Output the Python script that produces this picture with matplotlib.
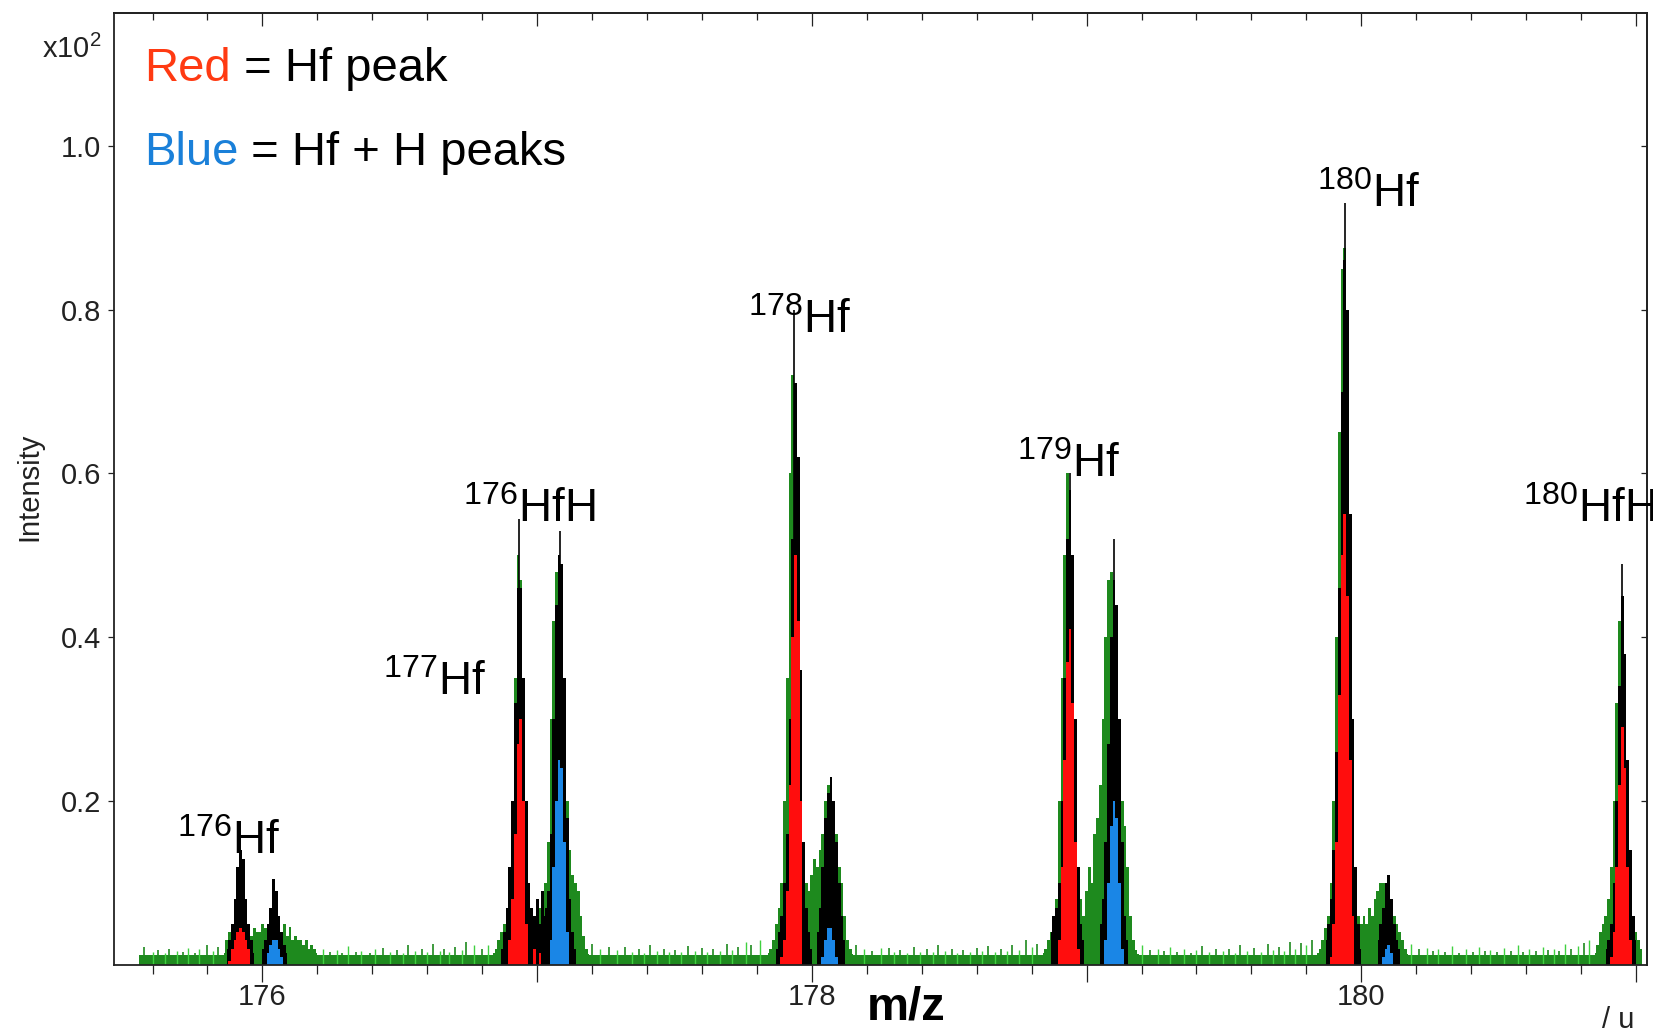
import numpy as np
import matplotlib.pyplot as plt
from matplotlib.ticker import MultipleLocator, FixedLocator, NullFormatter

plt.rcParams['font.family'] = ['Liberation Sans', 'DejaVu Sans']
plt.rcParams['mathtext.fontset'] = 'custom'
plt.rcParams['mathtext.rm'] = 'Liberation Sans'
plt.rcParams['mathtext.it'] = 'Liberation Sans'
plt.rcParams['mathtext.bf'] = 'Liberation Sans:bold'

STEP = 0.01  # bin width of the spectrum (u)
GREEN = '#1e8a1e'
LIGHT_GREEN = '#3fd13f'
RED = '#ff0d0d'
BLUE = '#1a86e6'

# flat background of the spectrum
base_start, base_end, base_level = 175.55, 181.02, 0.012

# noise spikes on the background
spike_x = [175.57, 175.60, 175.62, 175.645, 175.66, 175.69, 175.71, 175.73,
           175.755, 175.77, 175.80, 175.82, 175.84,
           176.22, 176.245, 176.27, 176.29, 176.31, 176.34, 176.36, 176.39,
           176.41, 176.44, 176.465, 176.49, 176.51, 176.53, 176.555, 176.58,
           176.60, 176.62, 176.645, 176.66, 176.68, 176.70, 176.725, 176.74,
           176.77, 176.80, 176.82,
           177.20, 177.23, 177.26, 177.29, 177.32, 177.345, 177.37, 177.39,
           177.41, 177.435, 177.46, 177.48, 177.50, 177.525, 177.55, 177.575,
           177.60, 177.62, 177.64, 177.665, 177.69, 177.71, 177.73, 177.76,
           177.78, 177.81,
           178.16, 178.19, 178.22, 178.25, 178.28, 178.30, 178.32, 178.345,
           178.37, 178.395, 178.42, 178.44, 178.46, 178.485, 178.51, 178.53,
           178.55, 178.575, 178.60, 178.62, 178.64, 178.665, 178.69, 178.71,
           178.73, 178.755, 178.78, 178.80, 178.82,
           179.20, 179.23, 179.26, 179.28, 179.305, 179.33, 179.355, 179.38,
           179.40, 179.42, 179.445, 179.47, 179.495, 179.52, 179.54, 179.56,
           179.585, 179.61, 179.635, 179.66, 179.68, 179.70, 179.72, 179.74,
           179.76, 179.78, 179.80, 179.82,
           180.18, 180.21, 180.24, 180.26, 180.28, 180.305, 180.33, 180.355,
           180.38, 180.405, 180.43, 180.45, 180.47, 180.495, 180.52, 180.545,
           180.57, 180.59, 180.61, 180.635, 180.66, 180.68, 180.70, 180.72,
           180.74, 180.765, 180.79, 180.81, 180.83]
spike_y = [0.022, 0.016, 0.018, 0.015, 0.020, 0.017, 0.016, 0.021,
           0.015, 0.019, 0.024, 0.017, 0.022,
           0.020, 0.016, 0.018, 0.015, 0.023, 0.016, 0.017, 0.015,
           0.019, 0.021, 0.016, 0.018, 0.015, 0.024, 0.017, 0.020,
           0.016, 0.026, 0.017, 0.019, 0.016, 0.022, 0.018, 0.028,
           0.025, 0.020, 0.024,
           0.026, 0.020, 0.022, 0.018, 0.022, 0.016, 0.019, 0.015,
           0.024, 0.017, 0.020, 0.016, 0.018, 0.016, 0.023, 0.017,
           0.021, 0.016, 0.019, 0.017, 0.026, 0.018, 0.022, 0.028,
           0.024, 0.030,
           0.024, 0.020, 0.017, 0.021, 0.021, 0.016, 0.018, 0.015,
           0.022, 0.016, 0.019, 0.016, 0.024, 0.017, 0.020, 0.015,
           0.018, 0.016, 0.021, 0.017, 0.023, 0.016, 0.019, 0.017,
           0.025, 0.018, 0.030, 0.022, 0.026,
           0.024, 0.018, 0.020, 0.017, 0.022, 0.016, 0.019, 0.015,
           0.018, 0.023, 0.016, 0.020, 0.017, 0.019, 0.015, 0.024,
           0.017, 0.021, 0.016, 0.026, 0.018, 0.022, 0.017, 0.028,
           0.020, 0.027, 0.024, 0.030,
           0.026, 0.019, 0.021, 0.017, 0.020, 0.016, 0.023, 0.015,
           0.019, 0.016, 0.022, 0.017, 0.018, 0.016, 0.021, 0.017,
           0.024, 0.016, 0.019, 0.017, 0.022, 0.018, 0.020, 0.017,
           0.026, 0.019, 0.023, 0.027, 0.030]

# green envelope around each peak group (start, values every STEP)
green_start = [175.86, 176.84, 177.84, 178.84, 179.84, 180.85]
green_vals = [
    [0.015, 0.03, 0.04, 0.045, 0.05, 0.05, 0.05, 0.05, 0.045, 0.04, 0.035,
     0.045, 0.04, 0.04, 0.05, 0.045, 0.05, 0.05, 0.05, 0.045, 0.04, 0.04,
     0.05, 0.035, 0.047, 0.03, 0.035, 0.03, 0.03, 0.025, 0.03, 0.02, 0.025,
     0.02, 0.015],
    [0.015, 0.02, 0.03, 0.04, 0.05, 0.06, 0.1, 0.2, 0.35, 0.5, 0.47, 0.3,
     0.12, 0.08, 0.06, 0.05, 0.06, 0.07, 0.08, 0.1, 0.15, 0.3, 0.42, 0.48,
     0.5, 0.47, 0.35, 0.2, 0.14, 0.11, 0.1, 0.09, 0.06, 0.035, 0.02, 0.014],
    [0.015, 0.02, 0.03, 0.05, 0.07, 0.1, 0.2, 0.35, 0.6, 0.72, 0.7, 0.45,
     0.2, 0.12, 0.1, 0.09, 0.11, 0.13, 0.12, 0.14, 0.16, 0.2, 0.22, 0.22,
     0.2, 0.16, 0.12, 0.1, 0.06, 0.03, 0.02, 0.014],
    [0.015, 0.02, 0.03, 0.04, 0.05, 0.08, 0.2, 0.35, 0.5, 0.6, 0.58, 0.45,
     0.25, 0.12, 0.08, 0.06, 0.09, 0.12, 0.1, 0.16, 0.18, 0.22, 0.3, 0.4,
     0.47, 0.48, 0.47, 0.42, 0.3, 0.2, 0.17, 0.12, 0.06, 0.03, 0.018, 0.013],
    [0.015, 0.02, 0.03, 0.045, 0.06, 0.1, 0.2, 0.4, 0.65, 0.85, 0.875, 0.75,
     0.5, 0.25, 0.1, 0.06, 0.05, 0.06, 0.05, 0.07, 0.06, 0.08, 0.09, 0.1,
     0.1, 0.09, 0.08, 0.07, 0.06, 0.05, 0.04, 0.03, 0.02, 0.014],
    [0.015, 0.025, 0.04, 0.05, 0.06, 0.08, 0.12, 0.2, 0.32, 0.42, 0.45, 0.38,
     0.25, 0.12, 0.06, 0.04, 0.03, 0.02],
]

# individual peaks: black envelope and coloured (integrated) part
peak_kind = ['Hf', 'HfH', 'Hf', 'HfH', 'Hf', 'HfH', 'Hf', 'HfH', 'Hf', 'HfH', 'Hf']
peak_start = [175.87, 176.00, 176.87, 177.03, 177.87, 178.02, 178.87, 179.05,
              179.87, 180.06, 180.89]
peak_black = [
    [0.02, 0.03, 0.05, 0.08, 0.12, 0.14, 0.13, 0.08, 0.05, 0.03, 0.015],
    [0.02, 0.03, 0.05, 0.07, 0.105, 0.09, 0.06, 0.04, 0.025, 0.015],
    [0.02, 0.04, 0.07, 0.12, 0.2, 0.32, 0.46, 0.46, 0.35, 0.2, 0.1, 0.07,
     0.06, 0.08, 0.05, 0.09, 0.06],
    [0.07, 0.09, 0.16, 0.3, 0.44, 0.5, 0.49, 0.35, 0.18, 0.08, 0.04, 0.02],
    [0.02, 0.04, 0.06, 0.1, 0.16, 0.3, 0.52, 0.71, 0.62, 0.36, 0.15, 0.07,
     0.04, 0.02],
    [0.04, 0.07, 0.12, 0.18, 0.21, 0.23, 0.2, 0.15, 0.1, 0.06, 0.03],
    [0.04, 0.06, 0.07, 0.1, 0.2, 0.35, 0.52, 0.58, 0.5, 0.3, 0.12, 0.05, 0.03],
    [0.05, 0.08, 0.15, 0.27, 0.4, 0.47, 0.44, 0.3, 0.15, 0.06, 0.03],
    [0.03, 0.05, 0.08, 0.14, 0.26, 0.46, 0.7, 0.86, 0.8, 0.55, 0.3, 0.12,
     0.05, 0.02],
    [0.03, 0.05, 0.07, 0.1, 0.11, 0.08, 0.05, 0.03, 0.02],
    [0.02, 0.03, 0.05, 0.1, 0.2, 0.34, 0.45, 0.38, 0.25, 0.14, 0.06, 0.03],
]
peak_fill = [
    [0, 0.005, 0.02, 0.03, 0.04, 0.045, 0.04, 0.03, 0.02, 0, 0],
    [0, 0, 0.015, 0.025, 0.03, 0.03, 0.02, 0.01, 0, 0],
    [0, 0, 0, 0.03, 0.08, 0.16, 0.27, 0.3, 0.2, 0.05, 0, 0, 0.02, 0, 0.015,
     0, 0],
    [0, 0, 0.03, 0.12, 0.2, 0.25, 0.24, 0.15, 0.04, 0, 0, 0],
    [0, 0, 0.01, 0.03, 0.09, 0.22, 0.4, 0.5, 0.42, 0.2, 0, 0, 0, 0],
    [0, 0, 0.01, 0.03, 0.045, 0.045, 0.03, 0.01, 0, 0, 0],
    [0, 0, 0, 0.03, 0.12, 0.25, 0.37, 0.41, 0.32, 0.15, 0.02, 0, 0],
    [0, 0, 0.03, 0.1, 0.17, 0.2, 0.18, 0.1, 0.02, 0, 0],
    [0, 0, 0.01, 0.05, 0.15, 0.33, 0.5, 0.55, 0.45, 0.25, 0.06, 0, 0, 0],
    [0, 0, 0.01, 0.02, 0.025, 0.015, 0, 0, 0],
    [0, 0, 0.01, 0.04, 0.12, 0.22, 0.29, 0.24, 0.12, 0.03, 0, 0],
]
# single-channel tips sticking out of the peaks
tip_x = [175.92, 176.935, 177.085, 177.935, 178.94, 179.10, 179.94, 180.95]
tip_y = [0.14, 0.545, 0.53, 0.80, 0.60, 0.52, 0.93, 0.49]

# peak annotations
label_mass = ['176', '177', '176', '178', '179', '180', '180']
label_species = ['Hf', 'Hf', 'HfH', 'Hf', 'Hf', 'Hf', 'HfH']
label_x = [175.689, 176.438, 176.729, 177.766, 178.745, 179.839, 180.587]
label_y = [0.136, 0.329, 0.541, 0.772, 0.596, 0.925, 0.541]

fig = plt.figure(figsize=(16.53, 10.34), dpi=100)
ax = fig.add_axes([0.069, 0.0667, 0.9274, 0.9207])

ax.fill_between([base_start, base_end], 0, base_level, color=GREEN, lw=0)
ax.vlines(spike_x[::2], 0, spike_y[::2], colors=GREEN, lw=1.2, zorder=1)
ax.vlines(spike_x[1::2], 0, spike_y[1::2], colors=LIGHT_GREEN, lw=1.0, zorder=1)

for start, vals in zip(green_start, green_vals):
    x = start + STEP * np.arange(len(vals))
    ax.fill_between(x, vals, step='mid', color=GREEN, lw=0, zorder=1.1)

for kind, start, blk, col in zip(peak_kind, peak_start, peak_black, peak_fill):
    x = start + STEP * np.arange(len(blk))
    ax.fill_between(x, blk, step='mid', color='black', lw=0, zorder=1.2)
    ax.fill_between(x, col, step='mid', color=RED if kind == 'Hf' else BLUE,
                    lw=0, zorder=1.3)

ax.vlines(tip_x, 0, tip_y, colors='black', lw=1.2, zorder=1.15)

for m, s, x, y in zip(label_mass, label_species, label_x, label_y):
    ax.text(x, y, '$^{%s}$%s' % (m, s), fontsize=33, ha='left', va='baseline',
            clip_on=False)

ax.set_xlim(175.46, 181.04)
ax.set_ylim(0, 1.162)

ax.xaxis.set_major_locator(FixedLocator([176, 177, 178, 179, 180, 181]))
ax.xaxis.set_major_formatter(plt.FuncFormatter(lambda v, p: '%d' % v if v % 2 == 0 else ''))
ax.xaxis.set_minor_locator(MultipleLocator(0.2))
ax.yaxis.set_major_locator(FixedLocator([0.2, 0.4, 0.6, 0.8, 1.0]))
ax.yaxis.set_major_formatter(plt.FuncFormatter(lambda v, p: '%.1f' % v))
ax.tick_params(axis='x', which='major', direction='out', length=12, width=0.9,
               labelsize=21, pad=1, colors='#222222')
ax.tick_params(axis='x', which='minor', direction='out', length=6.5, width=0.9,
               colors='#222222')
ax.tick_params(axis='y', which='major', direction='out', length=4.3, width=0.9,
               labelsize=21, pad=5, colors='#222222')

top = ax.secondary_xaxis('top')
top.xaxis.set_major_locator(FixedLocator([176, 177, 178, 179, 180, 181]))
top.xaxis.set_minor_locator(MultipleLocator(0.2))
top.xaxis.set_major_formatter(NullFormatter())
top.tick_params(which='major', direction='in', length=9.5, width=0.9, colors='#222222')
top.tick_params(which='minor', direction='in', length=5, width=0.9, colors='#222222')
right = ax.secondary_yaxis('right')
right.yaxis.set_major_locator(FixedLocator([0.2, 0.4, 0.6, 0.8, 1.0]))
right.yaxis.set_major_formatter(NullFormatter())
right.tick_params(direction='in', length=4.3, width=0.9, colors='#222222')

for sp in list(ax.spines.values()) + [top.spines['top'], right.spines['right']]:
    sp.set_linewidth(1.3)
    sp.set_color('#222222')

# colour key
t1 = fig.text(0.0871, 0.9217, 'Red', color='#ff3a12', fontsize=34, va='baseline')
ax.annotate(' = Hf peak', xy=(1, 0), xycoords=t1, fontsize=34, va='bottom', ha='left')
t2 = fig.text(0.0871, 0.840, 'Blue', color='#1a80d9', fontsize=34, va='baseline')
ax.annotate(' = Hf + H peaks', xy=(1, 0), xycoords=t2, fontsize=34, va='bottom', ha='left')

fig.text(0.0255, 0.944, 'x10$^2$', fontsize=21, color='#222222', va='baseline')
fig.text(0.018, 0.529, 'Intensity', fontsize=21, rotation=90, ha='center',
         va='center', color='#222222')
fig.text(0.548, 0.014, 'm/z', fontsize=34, fontweight='bold', ha='center', va='baseline')
fig.text(0.979, 0.006, '/ u', fontsize=21, ha='center', va='baseline', color='#222222')

fig.savefig('out.png', dpi=100)
